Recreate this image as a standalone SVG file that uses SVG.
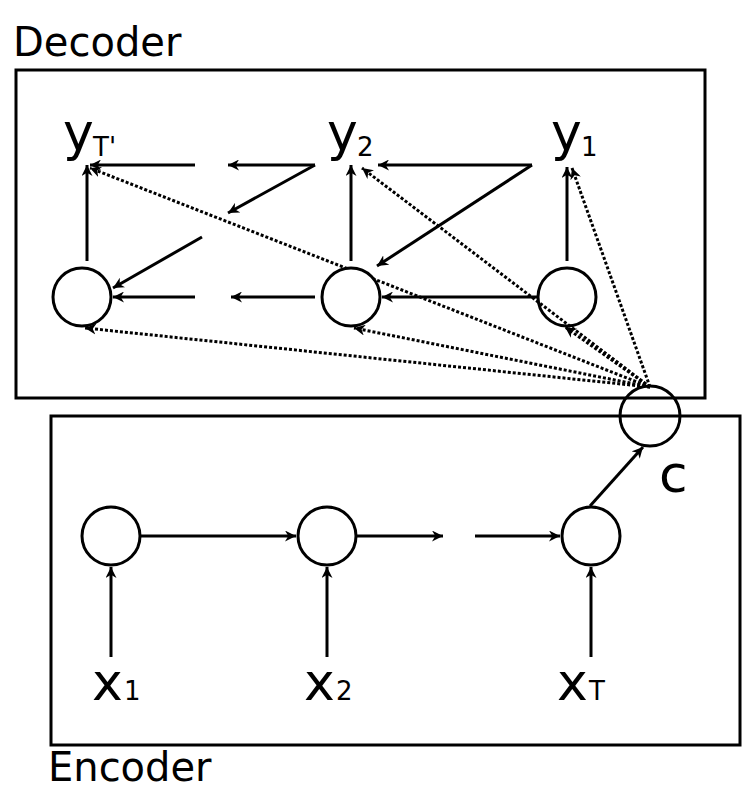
<svg xmlns="http://www.w3.org/2000/svg" width="744" height="793" viewBox="0 0 744 793">
<style>
.box{fill:none;stroke:#000;stroke-width:3}
.n{fill:#fff;stroke:#000;stroke-width:3}
.a{stroke:#000;stroke-width:3;fill:none;marker-end:url(#ah)}
.d{stroke:#000;stroke-width:3;stroke-dasharray:3,2;fill:none;marker-end:url(#ah)}
text{font-family:"DejaVu Sans",sans-serif;fill:#000}
.t{font-size:40px}
.v{font-size:52px}
.s{font-size:26px}
</style>
<defs>
<marker id="ah" viewBox="0 0 10 10" refX="10" refY="5" markerWidth="11" markerHeight="11" markerUnits="userSpaceOnUse" orient="auto"><path d="M0,0 L10,5 L0,10 L3,5 z" fill="#000"/></marker>
</defs>
<rect class="box" x="16" y="70" width="689" height="328"/>
<rect class="box" x="51" y="416" width="689" height="329"/>
<text class="t" x="13" y="56">Decoder</text>
<text class="t" x="48" y="781">Encoder</text>
<g id="connectors">
<line class="a" x1="195" y1="165" x2="90" y2="165"/>
<line class="a" x1="315" y1="165" x2="228" y2="165"/>
<line class="a" x1="315" y1="165" x2="228" y2="213"/>
<line class="a" x1="202" y1="237" x2="113" y2="288"/>
<line class="a" x1="195" y1="297" x2="113" y2="297"/>
<line class="a" x1="315" y1="297" x2="231" y2="297"/>
<line class="a" x1="532" y1="165" x2="378" y2="165"/>
<line class="a" x1="532" y1="165" x2="377" y2="266"/>
<line class="a" x1="538" y1="297" x2="382" y2="297"/>
<line class="a" x1="87" y1="261" x2="87" y2="165"/>
<line class="a" x1="351" y1="261" x2="351" y2="165"/>
<line class="a" x1="567" y1="261" x2="567" y2="167"/>
<line class="d" x1="650" y1="387" x2="90" y2="168"/>
<line class="d" x1="650" y1="387" x2="362" y2="168"/>
<line class="d" x1="650" y1="387" x2="572" y2="168"/>
<line class="d" x1="650" y1="387" x2="85" y2="328"/>
<line class="d" x1="650" y1="387" x2="354" y2="328"/>
<line class="d" x1="650" y1="387" x2="565" y2="327"/>
<line class="a" x1="141" y1="536" x2="296" y2="536"/>
<line class="a" x1="357" y1="536" x2="443" y2="536"/>
<line class="a" x1="475" y1="536" x2="560" y2="536"/>
<line class="a" x1="590" y1="506" x2="643" y2="447"/>
<line class="a" x1="111" y1="657" x2="111" y2="567"/>
<line class="a" x1="327" y1="657" x2="327" y2="567"/>
<line class="a" x1="591" y1="657" x2="591" y2="567"/>
</g>
<g id="dec1"><circle class="n" cx="82" cy="297" r="29"/></g>
<g id="dec2"><circle class="n" cx="351" cy="297" r="29"/></g>
<g id="dec3"><circle class="n" cx="567" cy="297" r="29" style="fill:none"/></g>
<g id="c"><circle class="n" cx="650" cy="416" r="30" style="fill:none"/><text class="v" x="659" y="492">c</text></g>
<g id="enc1"><circle class="n" cx="111" cy="536" r="29"/></g>
<g id="enc2"><circle class="n" cx="327" cy="536" r="29"/></g>
<g id="enc3"><circle class="n" cx="591" cy="536" r="29"/></g>
<g id="yT"><text class="v" x="63" y="150">y</text><text class="s" x="93" y="156">T'</text></g>
<g id="y2"><text class="v" x="327" y="150">y</text><text class="s" x="357" y="156">2</text></g>
<g id="y1"><text class="v" x="551" y="150">y</text><text class="s" x="581" y="156">1</text></g>
<g id="x1"><text class="v" x="92" y="700">x</text><text class="s" x="124" y="700">1</text></g>
<g id="x2"><text class="v" x="304" y="700">x</text><text class="s" x="336" y="700">2</text></g>
<g id="xT"><text class="v" x="557" y="700">x</text><text class="s" x="589" y="700">T</text></g>
</svg>
